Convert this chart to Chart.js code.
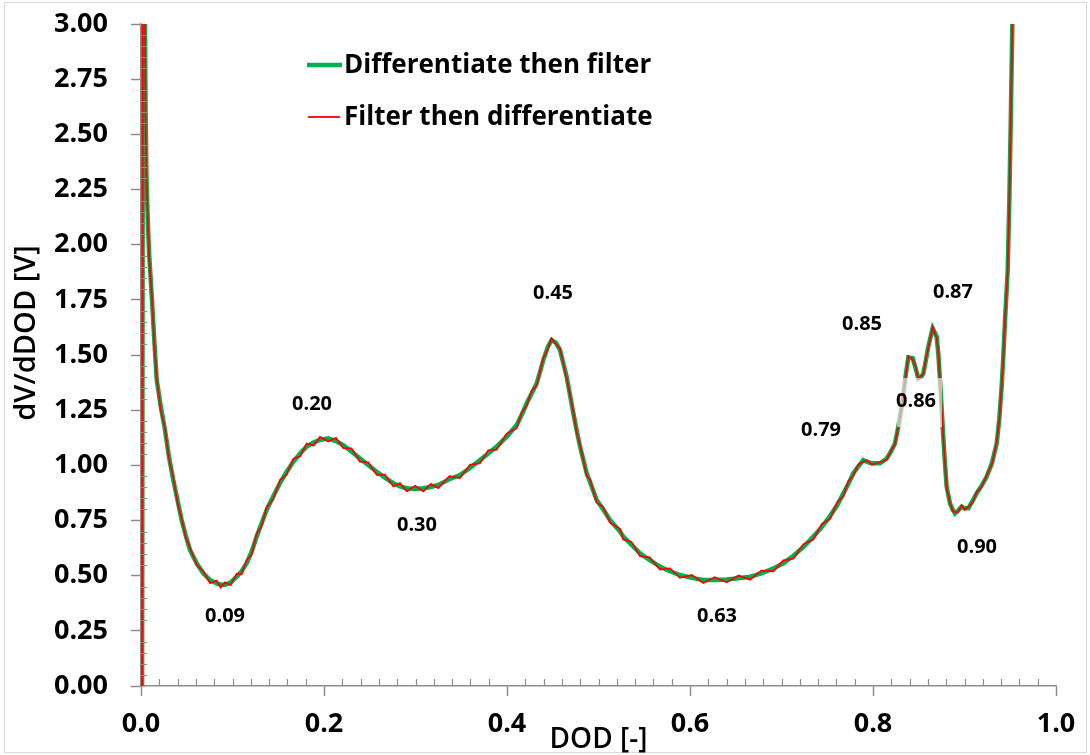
<!DOCTYPE html>
<html><head><meta charset="utf-8">
<script src="https://cdn.jsdelivr.net/npm/chart.js@4.4.1/dist/chart.umd.min.js"></script>
<style>html,body{margin:0;padding:0;background:#fff;}#wrap{width:1090px;height:755px;position:relative;}</style>
</head><body><div id="wrap"><canvas id="c" width="1090" height="755"></canvas></div>
<script>
// ---- data ----
const dod = [
0.0012,0.0022,0.0040,0.0050,0.0060,0.0075,0.0090,0.0120,0.0145,0.0171,
0.0215,0.0262,0.0305,0.0353,0.0400,0.0444,0.0490,0.0536,0.0610,0.0681,
0.0755,0.0827,0.0870,0.0918,0.0980,0.1046,0.1100,0.1155,0.1210,0.1264,
0.1320,0.1374,0.1445,0.1519,0.1590,0.1665,0.1740,0.1811,0.1885,0.1956,
0.2047,0.2130,0.2211,0.2300,0.2393,0.2485,0.2576,0.2665,0.2758,0.2830,
0.2904,0.2995,0.3085,0.3168,0.3249,0.3370,0.3486,0.3595,0.3705,0.3795,
0.3887,0.3997,0.4106,0.4160,0.4215,0.4270,0.4325,0.4397,0.4445,0.4488,
0.4535,0.4579,0.4652,0.4725,0.4761,0.4798,0.4871,0.4907,0.4980,0.5052,
0.5126,0.5235,0.5271,0.5360,0.5454,0.5560,0.5672,0.5780,0.5891,0.6020,
0.6145,0.6270,0.6401,0.6530,0.6656,0.6780,0.6911,0.7020,0.7130,0.7240,
0.7348,0.7440,0.7530,0.7610,0.7676,0.7730,0.7785,0.7840,0.7894,0.7940,
0.7990,0.8077,0.8150,0.8200,0.8240,0.8270,0.8295,0.8325,0.8350,0.8386,
0.8434,0.8465,0.8495,0.8525,0.8550,0.8580,0.8604,0.8652,0.8696,0.8715,
0.8732,0.8750,0.8768,0.8786,0.8805,0.8841,0.8870,0.8896,0.8930,0.8969,
0.9000,0.9042,0.9090,0.9133,0.9190,0.9242,0.9300,0.9352,0.9380,0.9406,
0.9425,0.9443,0.9472,0.9490,0.9505,0.9525,0.9545
];
const diffThenFilter = [
0.00,3.60,3.20,2.60,2.30,2.10,1.95,1.75,1.57,1.39,
1.27,1.16,1.04,0.933,0.840,0.752,0.680,0.616,0.555,0.511,
0.480,0.465,0.460,0.458,0.470,0.495,0.520,0.556,0.610,0.677,
0.740,0.798,0.860,0.919,0.970,1.016,1.055,1.085,1.103,1.115,
1.122,1.110,1.092,1.063,1.031,1.000,0.971,0.944,0.919,0.905,
0.896,0.893,0.896,0.902,0.911,0.937,0.956,0.988,1.024,1.054,
1.085,1.130,1.183,1.228,1.281,1.326,1.372,1.477,1.535,1.568,
1.555,1.523,1.402,1.236,1.160,1.085,0.964,0.925,0.843,0.800,
0.752,0.700,0.677,0.640,0.601,0.570,0.541,0.520,0.503,0.490,
0.480,0.480,0.483,0.488,0.495,0.510,0.533,0.556,0.590,0.630,
0.677,0.720,0.770,0.820,0.873,0.915,0.964,0.995,1.024,1.015,
1.009,1.009,1.031,1.065,1.099,1.160,1.220,1.300,1.387,1.489,
1.485,1.440,1.394,1.400,1.417,1.480,1.538,1.621,1.583,1.500,
1.387,1.260,1.130,1.010,0.903,0.828,0.800,0.782,0.795,0.813,
0.805,0.805,0.840,0.873,0.910,0.948,1.010,1.099,1.210,1.356,
1.500,1.658,1.885,2.200,2.550,3.050,3.600
];
const filterThenDiff = [
0.00,3.60,3.20,2.58,2.28,2.11,1.93,1.76,1.55,1.40,
1.25,1.17,1.03,0.945,0.828,0.760,0.672,0.625,0.548,0.520,
0.466,0.478,0.447,0.470,0.457,0.509,0.506,0.571,0.596,0.690,
0.727,0.812,0.846,0.933,0.956,1.030,1.041,1.099,1.089,1.129,
1.108,1.124,1.078,1.077,1.017,1.014,0.957,0.958,0.905,0.919,
0.882,0.907,0.882,0.916,0.897,0.951,0.942,1.002,1.010,1.068,
1.071,1.144,1.169,1.240,1.270,1.338,1.362,1.486,1.528,1.574,
1.549,1.529,1.394,1.244,1.150,1.094,0.952,0.936,0.832,0.811,
0.740,0.712,0.664,0.653,0.588,0.583,0.528,0.533,0.490,0.503,
0.467,0.493,0.470,0.501,0.482,0.523,0.520,0.569,0.577,0.643,
0.664,0.733,0.757,0.833,0.860,0.927,0.953,1.004,1.016,1.022,
1.003,1.014,1.025,1.070,1.094,1.166,1.214,1.306,1.382,1.494,
1.480,1.446,1.390,1.405,1.412,1.486,1.533,1.626,1.578,1.505,
1.382,1.265,1.125,1.015,0.898,0.834,0.794,0.788,0.789,0.819,
0.799,0.811,0.834,0.879,0.904,0.954,1.004,1.105,1.205,1.362,
1.495,1.664,1.880,2.205,2.545,3.055,3.600
];
const seriesNames = ['Differentiate then filter','Filter then differentiate'];
const xTickValues = [0,0.2,0.4,0.6,0.8,1.0];
const yTickValues = [0,0.25,0.5,0.75,1,1.25,1.5,1.75,2,2.25,2.5,2.75,3];
const peakLabels = ['0.09','0.20','0.30','0.45','0.63','0.79','0.85','0.86','0.87','0.90'];

// ---- styling / placement ----
const FONT = "'Open Sans', 'Noto Sans', sans-serif";
const AXIS = '#8c8c8c';
// anchor of each peak label, in data units (x: DOD, y: dV/dDOD)
const labelAnchors = [
 [0.0918,0.322],[0.1869,1.282],[0.3016,0.734],[0.4503,1.785],[0.6295,0.322],
 [0.7432,1.165],[0.7880,1.645],[0.8470,1.296],[0.8874,1.790],[0.9137,0.634]
];
const boxedLabel = '0.86';

const decor = {
  id:'decor',
  beforeDraw(chart){
    const c = chart.ctx;
    c.save();
    c.fillStyle='#fff'; c.fillRect(0,0,chart.width,chart.height);
    c.strokeStyle='#d9d9d9'; c.lineWidth=1;
    c.strokeRect(4.5,2.5,chart.width-8,chart.height-5);
    c.restore();
  },
  afterDraw(chart){
    const c = chart.ctx, xs = chart.scales.x, ys = chart.scales.y, a = chart.chartArea;
    c.save();
    // minor ticks
    c.strokeStyle = AXIS; c.lineWidth = 1.2;
    c.beginPath();
    for (let i=1;i<50;i++){ if(i%10===0) continue; const px=Math.round(xs.getPixelForValue(i*0.02))+0.5; c.moveTo(px,a.bottom); c.lineTo(px,a.bottom-7); }
    for (let i=1;i<60;i++){ if(i%5===0) continue; const py=Math.round(ys.getPixelForValue(i*0.05))+0.5; c.moveTo(a.left,py); c.lineTo(a.left+6,py); }
    c.stroke();
    // y axis title
    c.fillStyle='#000';
    c.font = "600 29px "+FONT;
    c.textAlign='center'; c.textBaseline='middle';
    c.translate(27, ys.getPixelForValue(1.6));
    c.rotate(-Math.PI/2);
    c.fillText('dV/dDOD [V]',0,0);
    c.setTransform(1,0,0,1,0,0);
    // legend
    c.font = "bold 26px "+FONT; c.textAlign='left'; c.textBaseline='middle';
    const legendRows = [[307,342,65],[308,340,117]];
    chart.data.datasets.forEach((ds,i)=>{
      const [x0,x1,y]=legendRows[i];
      c.strokeStyle=ds.borderColor; c.lineWidth=ds.borderWidth;
      c.beginPath(); c.moveTo(x0,y); c.lineTo(x1,y); c.stroke();
      c.fillStyle='#000'; c.fillText(ds.label,344,y+1);
    });
    // peak labels
    c.font = "bold 20px "+FONT; c.textAlign='center'; c.textBaseline='middle';
    peakLabels.forEach((t,i)=>{
      const px = xs.getPixelForValue(labelAnchors[i][0]);
      const py = ys.getPixelForValue(labelAnchors[i][1]);
      if (t===boxedLabel){ c.fillStyle='rgba(255,255,255,0.6)'; c.fillRect(px-19,py-22,45,49); }
      c.fillStyle='#000'; c.fillText(t,px,py+1);
    });
    c.restore();
  }
};

new Chart(document.getElementById('c').getContext('2d'), {
  type:'scatter',
  data:{datasets:[
    {label:seriesNames[0], data:dod.map((x,i)=>({x:x,y:diffThenFilter[i]})), showLine:true,
     borderColor:'#00b050', borderWidth:4.5, pointRadius:0, tension:0, order:2, clip:0},
    {label:seriesNames[1], data:dod.map((x,i)=>({x:x,y:filterThenDiff[i]})), showLine:true,
     borderColor:'#ff0000', borderWidth:1.8, pointRadius:0, tension:0, order:1, clip:0}
  ]},
  options:{
    responsive:false, animation:false, devicePixelRatio:1,
    layout:{padding:{left:0,right:34,top:24,bottom:0}},
    plugins:{legend:{display:false}, tooltip:{enabled:false}},
    scales:{
      x:{type:'linear', min:0, max:1,
        afterBuildTicks:s=>{s.ticks = xTickValues.map(v=>({value:v}));},
        ticks:{callback:v=>Number(v).toFixed(1), font:{family:FONT, weight:'bold', size:27}, color:'#000', padding:12, maxRotation:0, autoSkip:false},
        grid:{drawOnChartArea:false, drawTicks:true, tickLength:10, tickColor:AXIS, tickWidth:1.5},
        border:{display:true, color:AXIS, width:1.5},
        title:{display:true, text:'DOD [-]', color:'#000', font:{family:FONT, weight:'600', size:28, lineHeight:1}, padding:{top:0,bottom:1}},
        afterFit:s=>{s.height=69; s.paddingLeft=0; s.paddingRight=0;}
      },
      y:{type:'linear', min:0, max:3,
        afterBuildTicks:s=>{s.ticks = yTickValues.map(v=>({value:v}));},
        ticks:{callback:v=>Number(v).toFixed(2), font:{family:FONT, weight:'bold', size:27}, color:'#000', padding:23, autoSkip:false},
        grid:{drawOnChartArea:false, drawTicks:true, tickLength:10, tickColor:AXIS, tickWidth:1.5},
        border:{display:true, color:AXIS, width:1.5},
        afterFit:s=>{s.width=141; s.paddingTop=0; s.paddingBottom=0;}
      }
    }
  },
  plugins:[decor]
});
</script>
</body></html>
